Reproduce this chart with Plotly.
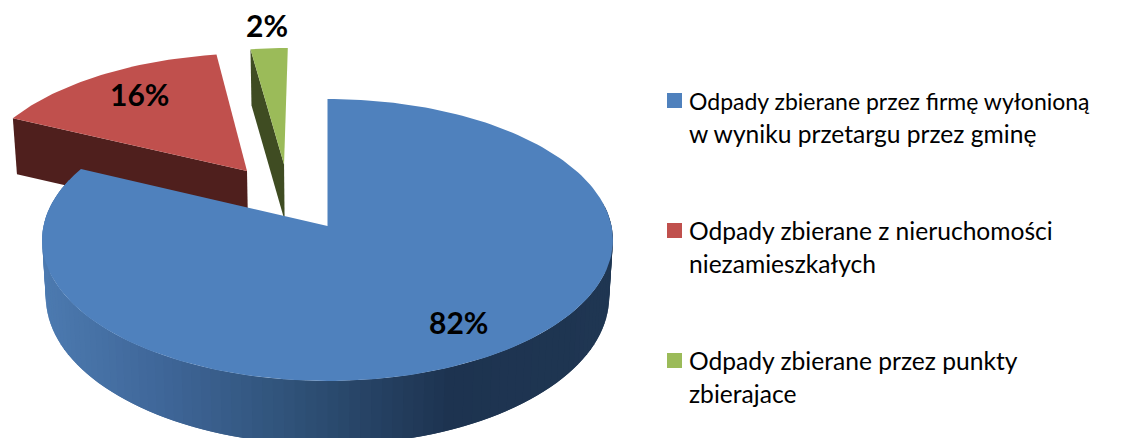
import math
import plotly.graph_objects as go

categories = [
    "Odpady zbierane przez firmę wyłonioną<br>w wyniku przetargu przez gminę",
    "Odpady zbierane z nieruchomości<br>niezamieszkałych",
    "Odpady zbierane przez punkty<br>zbierajace",
]
values = [82, 15.6, 2.4]
labels = ["82%", "16%", "2%"]

top_colors = ["#4f81bd", "#c0504d", "#9bbb59"]
wall_colors = [None, "#4f1f1d", "#3f4c22"]
blue_wall_stops = [(42, (76, 122, 176)), (163, (63, 102, 152)), (285, (48, 83, 122)),
                   (450, (29, 51, 80)), (616, (31, 54, 82))]
explode = [(0.0, 0.0), (-0.295, 0.41), (-0.16, 0.46)]
label_pos = [(458, 322), (139, 94), (267, 25)]
legend_key_y = [100.5, 230.5, 360.5]
LEGEND_KEY_X = (667, 682)
LEGEND_TEXT_X = 686.5
LEGEND_LINE_PITCH = 33
legend_line_sizes = [[23.0, 24.6], [24.6, 24.6], [24.6, 24.6]]

CX, CY, RX, RY, K = 327.5, 226.0, 284.0, 139.6, 0.0993
DEPTH, FRONT_GROW, SHRINK = 56.0, 0.05, 0.987


def project(u, v):
    d = 1 + K * v
    return CX + RX * u / d, CY - RY * v / d


def drop(p):
    return CX + (p[0] - CX) * SHRINK, p[1] + DEPTH + max(0.0, p[1] - CY) * FRONT_GROW


def rim(a0, a1, off, n):
    out = []
    for i in range(n + 1):
        a = math.radians(a0 + (a1 - a0) * i / n)
        out.append(project(off[0] + math.sin(a), off[1] + math.cos(a)))
    return out


def poly(fig, pts, color):
    xs = [p[0] for p in pts] + [pts[0][0]]
    ys = [p[1] for p in pts] + [pts[0][1]]
    fig.add_trace(go.Scatter(x=xs, y=ys, mode="lines", fill="toself", fillcolor=color,
                             line=dict(color=color, width=0), showlegend=False, hoverinfo="skip"))


def blue_shade(x):
    s = blue_wall_stops
    if x <= s[0][0]:
        c = s[0][1]
    elif x >= s[-1][0]:
        c = s[-1][1]
    else:
        for (x0, c0), (x1, c1) in zip(s, s[1:]):
            if x0 <= x <= x1:
                t = (x - x0) / (x1 - x0)
                c = tuple(c0[i] + (c1[i] - c0[i]) * t for i in range(3))
                break
    return "rgb(%d,%d,%d)" % tuple(round(v) for v in c)


total = sum(values)
ang = [0.0]
for v in values:
    ang.append(ang[-1] + 360.0 * v / total)

fig = go.Figure()

# back slices first: red, then green
for idx in (1, 2):
    off = explode[idx]
    arc = rim(ang[idx], ang[idx + 1], off, 40)
    apex = project(*off)
    poly(fig, [arc[0], apex, drop(apex), drop(arc[0])], wall_colors[idx])
    poly(fig, [apex] + arc, top_colors[idx])

# blue outer wall: overlapping strips, so no seams show through
off = explode[0]
edge = rim(80, 290, off, 105)
for i in range(len(edge) - 1):
    p = edge[i]
    q = edge[min(i + 2, len(edge) - 1)]
    poly(fig, [p, q, drop(q), drop(p)], blue_shade((edge[i][0] + edge[i + 1][0]) / 2))
poly(fig, [project(*off)] + rim(ang[0], ang[1], off, 200), top_colors[0])

annotations = [
    dict(x=x, y=y, text="<b>%s</b>" % t, showarrow=False, xref="x", yref="y",
         font=dict(family="Lato", size=30, color="#000000"))
    for (x, y), t in zip(label_pos, labels)
]
shapes = []
for name, col, ky, sizes in zip(categories, top_colors, legend_key_y, legend_line_sizes):
    shapes.append(dict(type="rect", xref="x", yref="y", x0=LEGEND_KEY_X[0], x1=LEGEND_KEY_X[1],
                       y0=ky - 7.5, y1=ky + 7.5, fillcolor=col, line=dict(width=0)))
    for j, (line, size) in enumerate(zip(name.split("<br>"), sizes)):
        annotations.append(dict(x=LEGEND_TEXT_X, y=ky + j * LEGEND_LINE_PITCH, text=line,
                                showarrow=False, xref="x", yref="y", xanchor="left",
                                yanchor="middle",
                                font=dict(family="Lato", size=size, color="#000000")))

fig.update_layout(
    width=1122, height=438, margin=dict(l=0, r=0, t=0, b=0), showlegend=False,
    paper_bgcolor="#ffffff", plot_bgcolor="#ffffff",
    xaxis=dict(range=[0, 1122], visible=False, fixedrange=True),
    yaxis=dict(range=[438, 0], visible=False, fixedrange=True),
    annotations=annotations, shapes=shapes,
)
fig.write_html("out.html", config={"displayModeBar": False},
               post_script="document.body.style.margin='0';document.body.style.overflow='hidden';")
